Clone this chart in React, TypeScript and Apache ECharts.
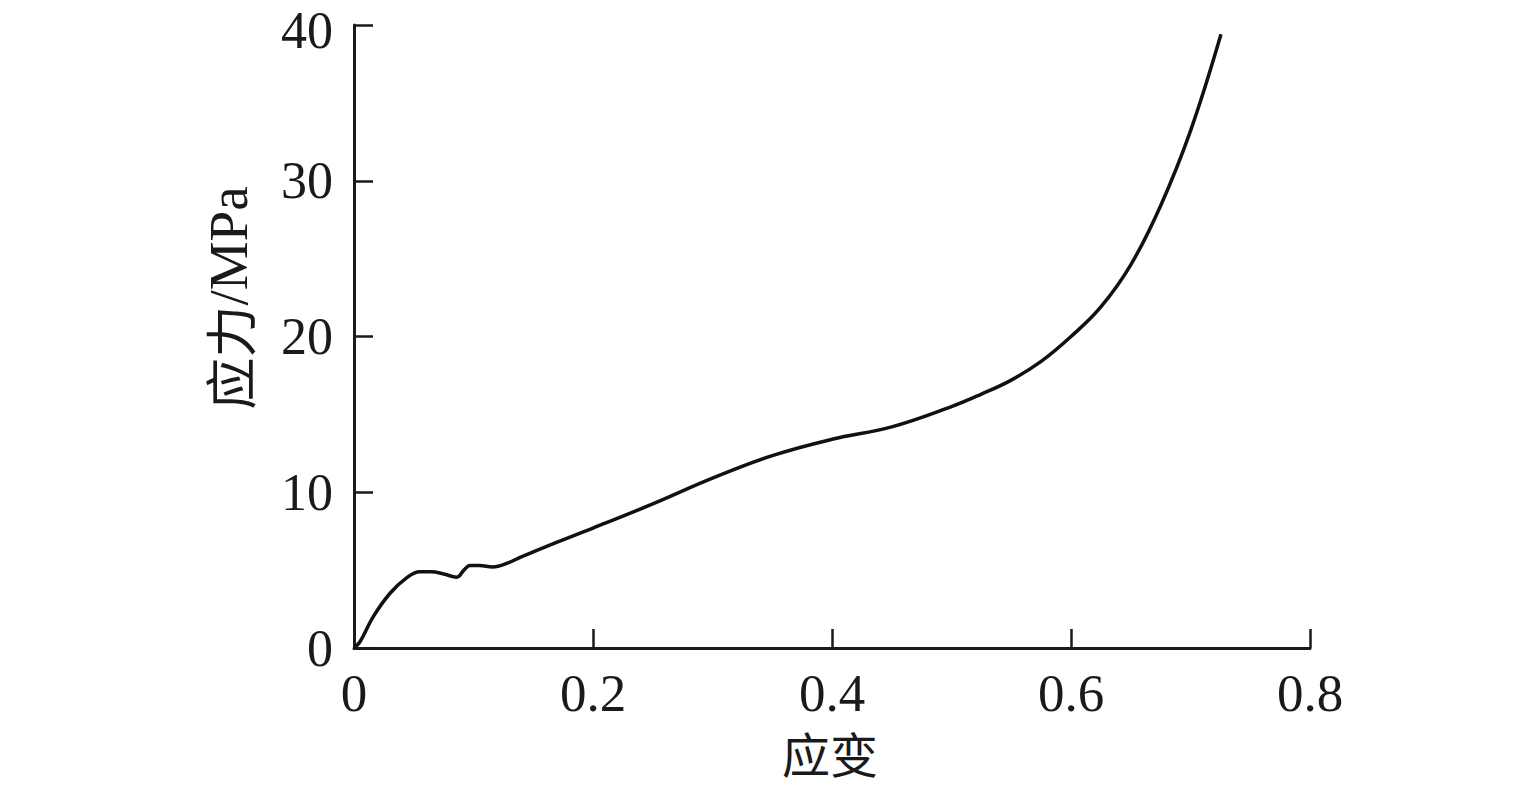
import React, { useEffect, useRef } from "react";
import * as echarts from "echarts";

const strain = [0, 0.005, 0.016, 0.03, 0.044, 0.055, 0.065, 0.075, 0.086, 0.092, 0.097, 0.105, 0.116, 0.13, 0.14, 0.17, 0.2, 0.25, 0.3, 0.35, 0.4, 0.45, 0.5, 0.525, 0.55, 0.575, 0.6, 0.625, 0.65, 0.675, 0.7, 0.7255];
const stress = [0, 0.4, 2.0, 3.5, 4.5, 4.9, 4.9, 4.75, 4.55, 5.0, 5.3, 5.3, 5.2, 5.5, 5.85, 6.8, 7.7, 9.25, 10.9, 12.35, 13.4, 14.2, 15.5, 16.3, 17.2, 18.4, 20.0, 21.9, 24.6, 28.4, 33.2, 39.4];
const xName = "应变";
const yNameCjk = "应力";
const yNameUnit = "/MPa";

const serif = "'Liberation Serif', 'Noto Sans CJK SC', serif";
const cjk = "'Noto Sans CJK SC', 'Liberation Serif', serif";
const ink = "#1a1a1a";

export default function App() {
  const ref = useRef<HTMLDivElement>(null);
  useEffect(() => {
    const chart = echarts.init(ref.current!, null, { renderer: "svg" });
    const data = strain.map((x, i) => [x, stress[i]]);
    chart.setOption({
      animation: false,
      grid: { left: 354, right: 225, top: 25, bottom: 143 },
      xAxis: {
        type: "value",
        min: 0,
        max: 0.8,
        interval: 0.2,
        axisLine: { show: true, lineStyle: { color: ink, width: 3 } },
        axisTick: { show: true, inside: true, length: 19, lineStyle: { color: ink, width: 2.5 } },
        axisLabel: { fontFamily: serif, fontSize: 53, color: ink, margin: 18 },
        splitLine: { show: false },
      },
      yAxis: {
        type: "value",
        min: 0,
        max: 40,
        interval: 10,
        axisLine: { show: true, lineStyle: { color: ink, width: 3 } },
        axisTick: { show: true, inside: true, length: 19, lineStyle: { color: ink, width: 2.5 } },
        axisLabel: {
          fontFamily: serif,
          fontSize: 52,
          color: ink,
          margin: 21,
          formatter: (v: number) => (v === 40 ? `{t|${v}}` : `${v}`),
          rich: { t: { fontFamily: serif, fontSize: 52, color: ink, padding: [10, 0, 0, 0] } },
        },
        splitLine: { show: false },
      },
      graphic: [
        {
          type: "text",
          x: 830,
          y: 752,
          style: {
            text: xName,
            font: `48px ${cjk}`,
            fill: ink,
            align: "center",
            verticalAlign: "middle",
          },
        },
        {
          type: "text",
          x: 228,
          y: 298,
          rotation: Math.PI / 2,
          style: {
            text: `{c|${yNameCjk}}{l|${yNameUnit}}`,
            fill: ink,
            align: "center",
            verticalAlign: "middle",
            rich: {
              c: { fontFamily: cjk, fontSize: 52, fill: ink },
              l: { fontFamily: serif, fontSize: 55, fill: ink },
            },
          },
        },
      ],
      series: [
        {
          type: "line",
          data,
          smooth: 0.4,
          showSymbol: false,
          lineStyle: { color: "#111", width: 3.5 },
        },
      ],
    });
    return () => chart.dispose();
  }, []);
  return <div ref={ref} style={{ width: 1535, height: 791, position: "absolute", left: 0, top: 0, background: "#fff" }} />;
}
